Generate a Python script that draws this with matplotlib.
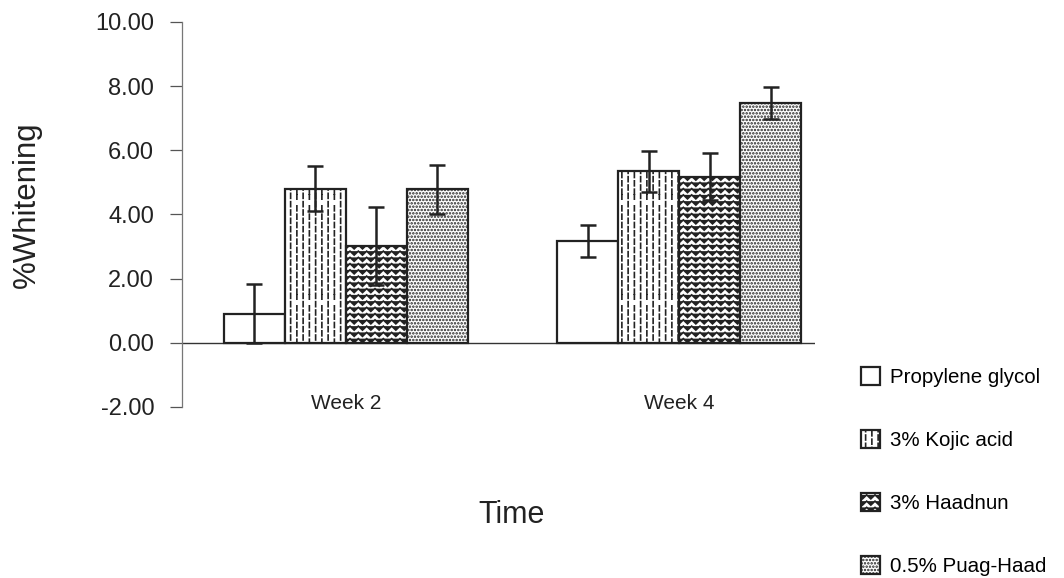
import warnings
import numpy as np
import matplotlib
matplotlib.use("Agg")
import matplotlib.pyplot as plt
import matplotlib.hatch as mhatch
from matplotlib.path import Path

warnings.filterwarnings("ignore")

# ---------------- data ----------------
weeks = ["Week 2", "Week 4"]
treatments = ["Propylene glycol", "3% Kojic acid", "3% Haadnun", "0.5% Puag-Haad"]
propylene = [0.90, 3.18]
kojic = [4.80, 5.34]
haadnun = [3.02, 5.18]
puag = [4.78, 7.47]
propylene_err = [0.92, 0.50]
kojic_err = [0.70, 0.63]
haadnun_err = [1.22, 0.72]
puag_err = [0.76, 0.50]
yticks = [-2, 0, 2, 4, 6, 8, 10]


# ---------------- custom hatches ----------------
class VDashes(mhatch.HatchPatternBase):
    """short staggered vertical dashes, triggered by ':'"""
    def __init__(self, hatch, density):
        n = hatch.count(':')
        self.cols = 16 * n
        self.rows = 12 * n
        self.num_vertices = self.cols * self.rows * 2 if n else 0

    def set_vertices_and_codes(self, vertices, codes):
        k = 0
        dl = 0.05
        for c in range(self.cols):
            x = (c + 0.5) / self.cols
            off = 0.5 if c % 2 else 0.0
            for r in range(self.rows):
                yc = ((r + 0.5 + off) / self.rows) % 1.0
                y0 = min(max(yc - dl / 2, 0.0), 1.0 - dl)
                vertices[k] = (x, y0)
                vertices[k + 1] = (x, y0 + dl)
                codes[k] = Path.MOVETO
                codes[k + 1] = Path.LINETO
                k += 2


class ZigZag(mhatch.HatchPatternBase):
    """herringbone-like chevron rows, triggered by '~'"""
    def __init__(self, hatch, density):
        n = hatch.count('~')
        self.rows = 16 * n
        self.periods = 12
        self.num_vertices = self.rows * (2 * self.periods + 1) if n else 0

    def set_vertices_and_codes(self, vertices, codes):
        k = 0
        amp = 0.02
        npts = 2 * self.periods + 1
        for r in range(self.rows):
            yc = (r + 0.5) / self.rows
            for i in range(npts):
                x = i / (npts - 1)
                y = yc + (amp if i % 2 == 0 else -amp)
                vertices[k] = (x, y)
                codes[k] = Path.MOVETO if i == 0 else Path.LINETO
                k += 1


mhatch._hatch_types.append(VDashes)
mhatch._hatch_types.append(ZigZag)

plt.rcParams['font.family'] = ['Liberation Sans', 'DejaVu Sans']
plt.rcParams['hatch.linewidth'] = 1.2
plt.rcParams['hatch.color'] = 'black'

fig = plt.figure(figsize=(10.64, 5.78), dpi=100)
ax = fig.add_axes([0.171, 0.296, 0.595, 0.666])

series = [propylene, kojic, haadnun, puag]
errs = [propylene_err, kojic_err, haadnun_err, puag_err]
hatches = [None, ':', '~', '.....']
x = np.arange(len(weeks))
width = 0.183
offsets = (np.arange(4) - 1.5) * width

handles = []
for vals, er, h, off, lab in zip(series, errs, hatches, offsets, treatments):
    b = ax.bar(x + off, vals, width, color='white', edgecolor='#222222',
               linewidth=1.6, hatch=h, label=lab, zorder=2)
    ax.errorbar(x + off, vals, yerr=er, fmt='none', ecolor='#222222',
                elinewidth=1.8, capsize=5.5, capthick=1.8, zorder=3)
    handles.append(b)

ax.axhline(0, color='#333333', linewidth=1.0, zorder=1)
ax.set_ylim(-2, 10)
ax.set_xlim(-0.492, 1.408)
ax.set_yticks(yticks)
ax.set_yticklabels([f"{v:.2f}" for v in yticks], fontsize=17, color='#222222')
ax.set_xticks(x)
ax.set_xticklabels(weeks, fontsize=15, color='#222222')
ax.tick_params(axis='y', direction='out', length=9, width=0.9, color='#555555', pad=11)
ax.tick_params(axis='x', length=0, pad=-9)
for s in ['top', 'right', 'bottom']:
    ax.spines[s].set_visible(False)
ax.spines['left'].set_color('#777777')
ax.spines['left'].set_linewidth(0.9)

ax.set_ylabel('%Whitening', fontsize=22.5, color='#222222')
ax.yaxis.set_label_coords(-0.221, 0.525)
fig.text(0.481, 0.109, 'Time', fontsize=22, color='#222222', ha='center', va='center')

fig.legend(handles=handles, labels=treatments, loc='upper left',
           bbox_to_anchor=(0.809, 0.365), frameon=False, fontsize=14.8,
           handlelength=0.95, handleheight=0.95, handletextpad=0.45,
           labelspacing=2.1, borderpad=0, borderaxespad=0)

fig.savefig('out.png', dpi=100)
